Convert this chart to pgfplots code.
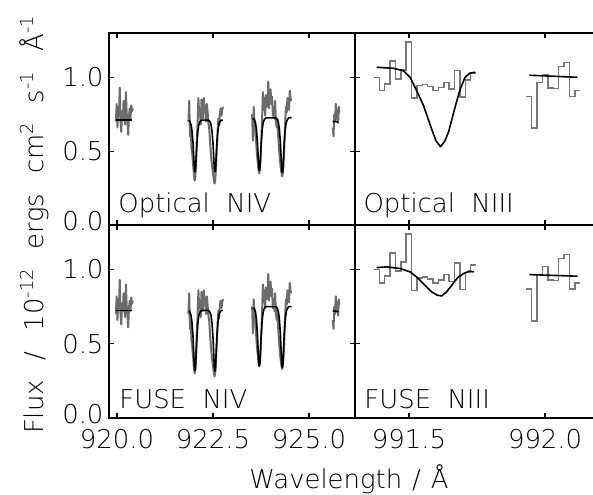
\documentclass[border=0pt]{standalone}
\usepackage{fontspec}
\IfFontExistsTF{DejaVuSans-ExtraLight.ttf}
  {\setmainfont{DejaVuSans-ExtraLight.ttf}}
  {\setmainfont{DejaVu Sans}}
\usepackage{pgfplots}
\usepackage{pgfplotstable}
\pgfplotsset{compat=1.18}
\definecolor{specgray}{RGB}{108,108,108}
\definecolor{histgray}{RGB}{120,120,120}
\newcommand\bigf{\fontsize{26}{30}\selectfont}
\newcommand\sups[1]{\raisebox{0.42em}{\fontsize{18}{20}\selectfont #1}}

% ---------- observed spectra (grey) ----------
\pgfplotstableread{
x y
919.97 0.70
919.99 0.82
920.01 0.66
920.03 0.78
920.05 0.74
920.07 0.93
920.09 0.70
920.11 0.63
920.13 0.77
920.15 0.72
920.17 0.84
920.19 0.73
920.21 0.68
920.23 0.90
920.25 0.76
920.27 0.71
920.29 0.61
920.31 0.74
920.33 0.79
920.35 0.72
920.37 0.81
920.39 0.77
920.41 0.79
}\grayA
\pgfplotstableread{
x y
921.86 0.70
921.88 0.84
921.90 0.60
921.92 0.66
921.94 0.52
921.96 0.48
921.98 0.42
922.00 0.35
922.02 0.30
922.04 0.33
922.06 0.44
922.08 0.58
922.10 0.70
922.12 0.86
922.14 0.74
922.16 0.79
922.18 0.68
922.20 0.85
922.22 0.75
922.24 0.72
922.26 0.86
922.28 0.77
922.30 0.81
922.32 0.70
922.34 0.82
922.36 0.76
922.38 0.69
922.40 0.66
922.42 0.58
922.44 0.50
922.46 0.44
922.48 0.39
922.50 0.35
922.52 0.31
922.54 0.28
922.56 0.31
922.58 0.40
922.60 0.52
922.62 0.63
922.64 0.72
922.66 0.67
922.68 0.76
922.70 0.79
922.72 0.74
922.74 0.78
922.76 0.80
}\grayB
\pgfplotstableread{
x y
923.52 0.75
923.54 0.57
923.56 0.80
923.58 0.70
923.60 0.66
923.62 0.58
923.64 0.50
923.66 0.44
923.68 0.39
923.70 0.35
923.72 0.37
923.74 0.44
923.76 0.57
923.78 0.72
923.80 0.90
923.82 0.78
923.84 0.86
923.86 0.74
923.88 0.88
923.90 0.80
923.92 0.84
923.94 0.97
923.96 0.79
923.98 0.88
924.00 0.92
924.02 0.82
924.04 0.87
924.06 0.74
924.08 0.80
924.10 0.72
924.12 0.84
924.14 0.70
924.16 0.66
924.18 0.72
924.20 0.60
924.22 0.52
924.24 0.45
924.26 0.40
924.28 0.36
924.30 0.33
924.32 0.35
924.34 0.42
924.36 0.55
924.38 0.68
924.40 0.80
924.42 0.76
924.44 0.86
924.46 0.83
924.48 0.78
924.50 0.91
924.52 0.86
924.54 0.84
}\grayC
\pgfplotstableread{
x y
925.62 0.66
925.64 0.60
925.66 0.75
925.68 0.70
925.70 0.82
925.72 0.72
925.74 0.78
925.76 0.69
925.78 0.80
925.79 0.76
}\grayD
\pgfplotstableread{
x y
991.371 1.000
991.391 0.910
991.410 0.955
991.430 1.110
991.450 0.990
991.470 1.050
991.489 1.240
991.509 0.860
991.529 0.944
991.549 0.950
991.568 0.937
991.588 0.910
991.608 0.930
991.628 0.966
991.647 0.920
991.667 1.045
991.687 0.865
991.707 0.980
991.726 1.030
991.746 1.030
}\histE
\pgfplotstableread{
x y
991.930 0.870
991.950 0.655
991.970 0.966
991.990 1.020
992.010 0.928
992.029 0.925
992.049 1.074
992.069 1.100
992.089 0.870
992.109 0.910
992.129 0.910
}\histF

% ---------- model fits (black) ----------
\pgfplotstableread{
x y
919.97 0.710
920.38 0.710
}\fitTA
\pgfplotstableread{
x y
921.87 0.710
921.90 0.700
921.93 0.678
921.955 0.633
921.98 0.553
922.00 0.451
922.015 0.374
922.03 0.360
922.045 0.374
922.06 0.451
922.08 0.553
922.105 0.633
922.13 0.678
922.16 0.700
922.20 0.710
922.38 0.710
922.42 0.700
922.45 0.678
922.475 0.633
922.50 0.553
922.52 0.451
922.535 0.374
922.55 0.360
922.565 0.374
922.58 0.451
922.60 0.553
922.625 0.633
922.65 0.678
922.68 0.700
922.72 0.710
922.76 0.710
}\fitTB
\pgfplotstableread{
x y
923.53 0.722
923.577 0.714
923.607 0.693
923.632 0.647
923.657 0.565
923.677 0.462
923.692 0.384
923.707 0.370
923.722 0.384
923.737 0.462
923.757 0.565
923.782 0.647
923.807 0.693
923.837 0.714
923.877 0.725
924.136 0.725
924.176 0.714
924.206 0.692
924.231 0.644
924.256 0.558
924.276 0.451
924.291 0.370
924.306 0.355
924.321 0.370
924.336 0.451
924.356 0.558
924.381 0.644
924.406 0.692
924.436 0.714
924.476 0.725
924.55 0.728
}\fitTC
\pgfplotstableread{
x y
925.62 0.702
925.77 0.698
}\fitTD
\pgfplotstableread{
x y
919.97 0.725
920.38 0.725
}\fitBA
\pgfplotstableread{
x y
921.87 0.725
921.90 0.713
921.93 0.689
921.955 0.636
921.98 0.543
922.00 0.425
922.015 0.336
922.03 0.320
922.045 0.336
922.06 0.425
922.08 0.543
922.105 0.636
922.13 0.689
922.16 0.713
922.20 0.725
922.38 0.725
922.42 0.713
922.45 0.689
922.475 0.636
922.50 0.543
922.52 0.425
922.535 0.336
922.55 0.315
922.565 0.336
922.58 0.425
922.60 0.543
922.625 0.636
922.65 0.689
922.68 0.713
922.72 0.725
922.76 0.725
}\fitBB
\pgfplotstableread{
x y
923.53 0.738
923.577 0.738
923.607 0.714
923.632 0.662
923.657 0.570
923.677 0.454
923.692 0.366
923.707 0.350
923.722 0.366
923.737 0.454
923.757 0.570
923.782 0.662
923.807 0.714
923.837 0.738
923.877 0.750
924.136 0.750
924.176 0.738
924.206 0.713
924.231 0.660
924.256 0.566
924.276 0.447
924.291 0.356
924.306 0.340
924.321 0.356
924.336 0.447
924.356 0.566
924.381 0.660
924.406 0.713
924.436 0.738
924.476 0.750
924.55 0.750
}\fitBC
\pgfplotstableread{
x y
925.62 0.722
925.77 0.716
}\fitBD
\pgfplotstableread{
x y
991.381 1.068
991.442 1.061
991.479 1.045
991.504 1.000
991.528 0.910
991.553 0.810
991.583 0.650
991.599 0.570
991.616 0.530
991.632 0.570
991.645 0.628
991.669 0.797
991.688 0.920
991.706 1.000
991.724 1.029
991.743 1.034
}\fitTE
\pgfplotstableread{
x y
991.942 1.014
992.119 1.000
}\fitTF
\pgfplotstableread{
x y
991.381 1.013
991.418 1.018
991.467 1.007
991.504 0.984
991.528 0.950
991.553 0.905
991.583 0.850
991.604 0.827
991.620 0.822
991.638 0.850
991.657 0.894
991.678 0.944
991.700 0.973
991.722 0.989
991.739 0.984
}\fitBE
\pgfplotstableread{
x y
991.942 0.966
992.119 0.955
}\fitBF

\pgfplotsset{
  panel/.style={
    scale only axis,
    ymin=0, ymax=1.3,
    ytick={0,0.5,1}, yticklabels={{\raisebox{9bp}{0.0}},0.5,1.0},
    tick align=inside,
    major tick length=5bp,
    axis line style={line width=1.5bp},
    every tick/.style={black, line width=1.3bp},
    ticklabel style={font=\bigf},
    xticklabel style={yshift=-8bp},
    yticklabel style={xshift=-2bp},
  },
  leftpanel/.style={panel, width=246bp, xmin=919.79, xmax=926.20,
    xtick={920,922.5,925}, xticklabels={920.0,922.5,925.0}, tick pos=both},
  rightpanel/.style={panel, width=238bp, xmin=991.3015, xmax=992.176,
    xtick={991.5,992.0}, xticklabels={991.5,992.0},
    axis x line*=box, axis y line*=left, yticklabels={}},
  obs/.style={specgray, line width=2bp, line join=round},
  obsh/.style={histgray, line width=1.6bp, const plot mark left},
  fit/.style={black, line width=1.6bp, line join=round},
}

\begin{document}
\begin{tikzpicture}
% top left: Optical NIV
\begin{axis}[leftpanel, height=192bp, at={(0bp,193bp)}, anchor=south west, xticklabels={}]
\addplot[obs] table {\grayA};
\addplot[obs] table {\grayB};
\addplot[obs] table {\grayC};
\addplot[obs] table {\grayD};
\addplot[fit] table {\fitTA};
\addplot[fit] table {\fitTB};
\addplot[fit] table {\fitTC};
\addplot[fit] table {\fitTD};
\node[anchor=base west, font=\bigf] at (rel axis cs:0.024,0.063) {Optical\ \ NIV};
\end{axis}
% top right: Optical NIII
\begin{axis}[rightpanel, height=192bp, at={(246bp,193bp)}, anchor=south west, xticklabels={}]
\addplot[obsh] table {\histE};
\addplot[obsh] table {\histF};
\addplot[fit] table {\fitTE};
\addplot[fit] table {\fitTF};
\node[anchor=base west, font=\bigf] at (rel axis cs:0.021,0.063) {Optical\ \ NIII};
\end{axis}
% bottom left: FUSE NIV
\begin{axis}[leftpanel, height=193bp, at={(0bp,0bp)}, anchor=south west]
\addplot[obs] table {\grayA};
\addplot[obs] table {\grayB};
\addplot[obs] table {\grayC};
\addplot[obs] table {\grayD};
\addplot[fit] table {\fitBA};
\addplot[fit] table {\fitBB};
\addplot[fit] table {\fitBC};
\addplot[fit] table {\fitBD};
\node[anchor=base west, font=\bigf] at (rel axis cs:0.028,0.047) {FUSE\ \ NIV};
\end{axis}
% bottom right: FUSE NIII
\begin{axis}[rightpanel, height=193bp, at={(246bp,0bp)}, anchor=south west]
\addplot[obsh] table {\histE};
\addplot[obsh] table {\histF};
\addplot[fit] table {\fitBE};
\addplot[fit] table {\fitBF};
\node[anchor=base west, font=\bigf] at (rel axis cs:0.025,0.047) {FUSE\ \ NIII};
\end{axis}
\node[rotate=90, anchor=base, font=\bigf] at (-65bp,193bp)
  {Flux\hspace{20bp}/\hspace{20bp}10\sups{-12}\hspace{20bp}ergs\hspace{20bp}cm\sups{2}\hspace{20bp}s\sups{-1}\hspace{20bp}Å\sups{-1}};
\node[anchor=base, font=\bigf] at (240bp,-70bp) {Wavelength\hspace{10bp}/\hspace{10bp}Å};
\pgfresetboundingbox
\path[use as bounding box] (-109bp,-77bp) rectangle (484bp,418bp);
\end{tikzpicture}
\end{document}
